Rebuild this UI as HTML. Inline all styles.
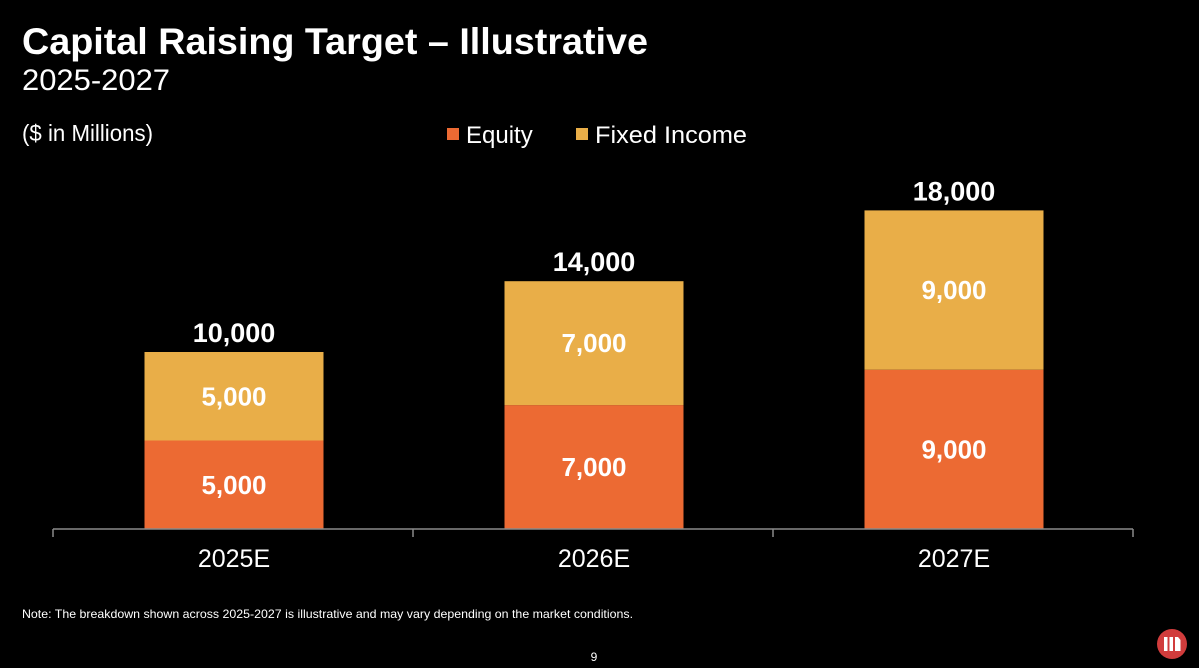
<!DOCTYPE html>
<html><head><meta charset="utf-8"><style>
html,body{margin:0;padding:0;background:#000;width:1199px;height:668px;overflow:hidden}
svg{display:block;font-family:"Liberation Sans",Arial,sans-serif}
</style></head><body>
<svg id="chart" width="1199" height="668" viewBox="0 0 1199 668">
<rect width="1199" height="668" fill="#000"/>
<text x="22" y="54" fill="#fff" font-size="37" font-weight="bold" textLength="626" lengthAdjust="spacingAndGlyphs">Capital Raising Target – Illustrative</text>
<text x="22" y="90" fill="#fff" font-size="30" textLength="148" lengthAdjust="spacingAndGlyphs">2025-2027</text>
<text x="22" y="141" fill="#fff" font-size="23" textLength="131" lengthAdjust="spacingAndGlyphs">($ in Millions)</text>
<g>
<rect x="447" y="128" width="12" height="12" fill="#ec6a33"/>
<text x="466" y="143" fill="#fff" font-size="24">Equity</text>
<rect x="576" y="128" width="12" height="12" fill="#e9ae48"/>
<text x="595" y="143" fill="#fff" font-size="24" textLength="152" lengthAdjust="spacingAndGlyphs">Fixed Income</text>
</g>
<g id="plot"></g>
<text x="22" y="618" fill="#fff" font-size="12" textLength="611" lengthAdjust="spacingAndGlyphs">Note: The breakdown shown across 2025-2027 is illustrative and may vary depending on the market conditions.</text>
<text x="594" y="661" fill="#fff" font-size="12" text-anchor="middle">9</text>
<g>
<circle cx="1172" cy="644" r="15" fill="#d13c3c"/>
<rect x="1164" y="637" width="3.5" height="14" fill="#fff"/>
<rect x="1169.5" y="637" width="3.5" height="14" fill="#fff"/>
<path d="M1175 637 h3 l2.5 3 v11 h-5.5 z" fill="#fff"/>
</g>
</svg>
<script>
const categories = ["2025E","2026E","2027E"];
const equity = [5000,7000,9000];
const fixedIncome = [5000,7000,9000];
const totalLabels = ["10,000","14,000","18,000"];

const NS="http://www.w3.org/2000/svg";
const plot=document.getElementById('plot');
const baseY=529, pxPer=177/10000, x0=53, x1=1133, barW=179;
const bandW=(x1-x0)/categories.length;
function yScale(v){return baseY - v*pxPer;}
function xCenter(i){return x0 + bandW*(i+0.5) + 1;}
function mk(tag,attrs){const e=document.createElementNS(NS,tag);for(const k in attrs)e.setAttribute(k,attrs[k]);plot.appendChild(e);return e;}
function fmt(v){return v.toLocaleString('en-US');}

categories.forEach((c,i)=>{
  const cx=xCenter(i), left=cx-barW/2;
  const eTop=yScale(equity[i]);
  const r1=mk('rect',{x:left,y:eTop,width:barW,height:baseY-eTop,fill:'#ec6a33'});
  
  
  const fTop=yScale(equity[i]+fixedIncome[i]);
  const r2=mk('rect',{x:left,y:fTop,width:barW,height:eTop-fTop,fill:'#e9ae48'});
  
  
  const t1=mk('text',{x:cx,y:(eTop+baseY)/2+9,fill:'#fff','font-size':26,'font-weight':'bold','text-anchor':'middle'});
  t1.textContent=fmt(equity[i]);
  
  
  const t2=mk('text',{x:cx,y:(fTop+eTop)/2+9,fill:'#fff','font-size':26,'font-weight':'bold','text-anchor':'middle'});
  t2.textContent=fmt(fixedIncome[i]);
  
  
  const t3=mk('text',{x:cx,y:fTop-10,fill:'#fff','font-size':27,'font-weight':'bold','text-anchor':'middle'});
  t3.textContent=totalLabels[i];
  
  
  const t4=mk('text',{x:cx,y:baseY+38,fill:'#fff','font-size':25,'text-anchor':'middle'});
  t4.textContent=c;
  
  
});
const ax=mk('line',{x1:x0,y1:baseY,x2:x1,y2:baseY,stroke:'#8a8a8a','stroke-width':1.5});


for(let i=0;i<=categories.length;i++){
  const tx=x0+bandW*i;
  const tk=mk('line',{x1:tx,y1:baseY,x2:tx,y2:baseY+8,stroke:'#8a8a8a','stroke-width':1.5});
  
  
}
</script>
</body></html>
